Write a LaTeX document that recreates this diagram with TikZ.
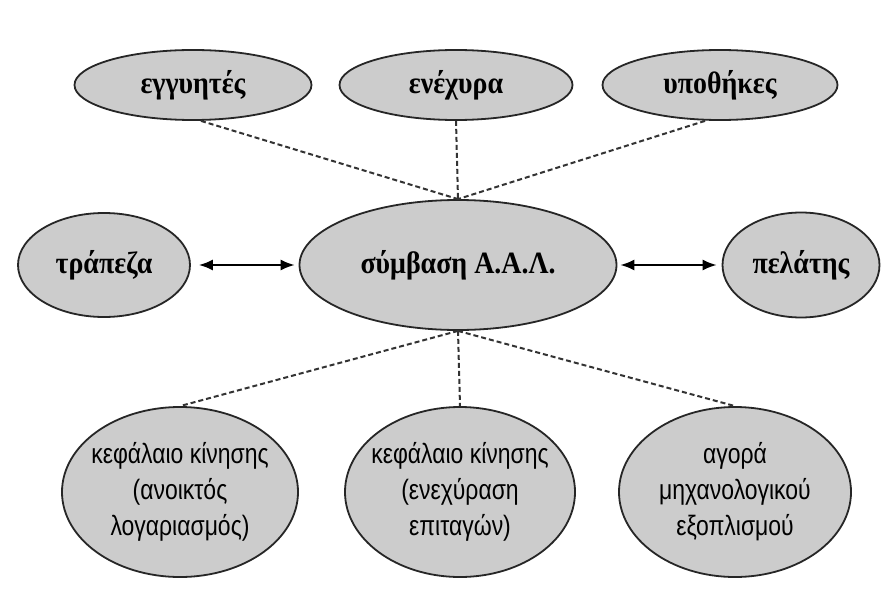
\documentclass[tikz,border=0pt]{standalone}
\usepackage{fontspec}
\setmainfont{Liberation Serif}
\newfontfamily\narrowsans[FakeStretch=0.82]{Liberation Sans}
\newfontfamily\narrowserif[FakeStretch=0.9]{Liberation Serif}
\usetikzlibrary{shapes.geometric,arrows.meta}
\begin{document}
\begin{tikzpicture}[x=1pt,y=-1pt,
  bubble/.style={ellipse,draw=black!85,line width=1.8pt,fill=black!20,inner sep=0pt},
  toptext/.style={font=\narrowserif\fontsize{31}{34}\selectfont\bfseries},
  lowtext/.style={font=\narrowsans\fontsize{28}{36}\selectfont,align=center,inner sep=0pt},
  link/.style={draw=black!80,line width=2pt,dash pattern=on 5pt off 3pt},
  dbl/.style={line width=1.8pt,{Latex[length=14pt,width=11pt]}-{Latex[length=14pt,width=11pt]}}]
\useasboundingbox[fill=white] (0,0) rectangle (896,591);
% top row
\node[bubble,toptext,minimum width=237pt,minimum height=70pt] (eg) at (193,85) {εγγυητές};
\node[bubble,toptext,minimum width=233pt,minimum height=70pt] (en) at (456,85) {ενέχυρα};
\node[bubble,toptext,minimum width=235pt,minimum height=70pt] (yp) at (720,85) {υποθήκες};
% middle row
\node[bubble,toptext,minimum width=172pt,minimum height=104pt] (tr) at (104,265) {τράπεζα};
\node[bubble,toptext,minimum width=317pt,minimum height=130pt] (sy) at (458,265) {σύμβαση Α.Α.Λ.};
\node[bubble,toptext,minimum width=157pt,minimum height=105pt] (pe) at (801,265) {πελάτης};
% bottom row
\node[bubble,minimum width=236pt,minimum height=170pt,label={[lowtext]center:κεφάλαιο κίνησης\\(ανοικτός\\λογαριασμός)}] (k1) at (180,492) {};
\node[bubble,minimum width=230pt,minimum height=170pt,label={[lowtext]center:κεφάλαιο κίνησης\\(ενεχύραση\\επιταγών)}] (k2) at (460,492) {};
\node[bubble,minimum width=232pt,minimum height=170pt,label={[lowtext]center:αγορά\\μηχανολογικού\\εξοπλισμού}] (k3) at (735,492) {};
% connectors
\coordinate (top) at (sy.north);
\coordinate (bot) at (sy.south);
\draw[link] (eg.south)++(8,0) coordinate (egs) -- (top);
\draw[link] (en.south) -- (top);
\draw[link] (yp.south)++(-15,0) coordinate (yps) -- (top);
\draw[link] (bot) -- (k1.north);
\draw[link] (bot) -- (k2.north);
\draw[link] (bot) -- (k3.north);
\draw[dbl] ([xshift=8pt]tr.east) -- ([xshift=-4pt]sy.west);
\draw[dbl] ([xshift=3pt]sy.east) -- ([xshift=-5pt]pe.west);
\end{tikzpicture}
\end{document}
